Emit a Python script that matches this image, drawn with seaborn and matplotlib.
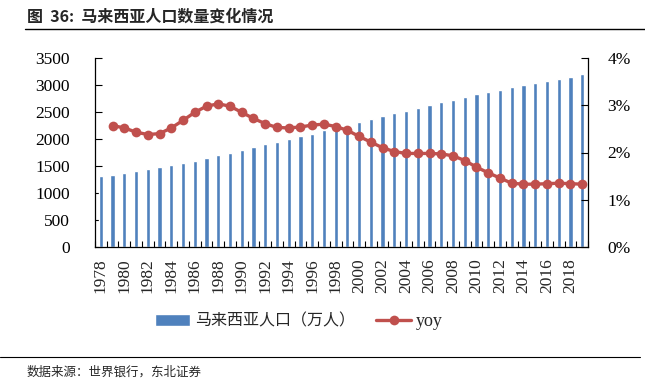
import numpy as np
import pandas as pd
import matplotlib
matplotlib.use("Agg")
import matplotlib.pyplot as plt
import seaborn as sns
from matplotlib.ticker import FixedLocator, FuncFormatter

years = list(range(1978, 2020))
population = [1309, 1340, 1377, 1407, 1444, 1481, 1512, 1555, 1599, 1648,
              1704, 1747, 1802, 1852, 1901, 1951, 2000, 2050, 2099, 2158,
              2210, 2262, 2321, 2371, 2426, 2475, 2525, 2574, 2624, 2679,
              2729, 2778, 2827, 2877, 2914, 2957, 2994, 3037, 3074, 3117,
              3154, 3200]
yoy_years = list(range(1979, 2020))
yoy = [2.57, 2.52, 2.43, 2.38, 2.40, 2.52, 2.68, 2.85, 2.98, 3.03,
       2.98, 2.85, 2.72, 2.61, 2.53, 2.52, 2.54, 2.58, 2.60, 2.55,
       2.47, 2.34, 2.22, 2.10, 2.02, 1.98, 1.98, 1.98, 1.97, 1.93,
       1.83, 1.69, 1.57, 1.46, 1.35, 1.33, 1.33, 1.34, 1.35, 1.34,
       1.33]
left_ticks = [0, 500, 1000, 1500, 2000, 2500, 3000, 3500]
right_ticks = [0, 1, 2, 3, 4]

bar_color = "#4F81BD"
line_color = "#C0504D"
serif = ["Liberation Serif", "Noto Sans CJK SC"]
cjk = ["Noto Sans CJK SC", "Liberation Serif"]

sns.set_style("ticks")
plt.rcParams["font.family"] = serif

fig = plt.figure(figsize=(6.45, 3.84), dpi=100)
ax = fig.add_axes([95/645, 1-247/384, (588-95)/645, (247-58)/384])

df = pd.DataFrame({"year": years, "pop": population})
sns.barplot(data=df, x="year", y="pop", color=bar_color, width=0.36,
            saturation=1, ax=ax, label="马来西亚人口（万人）")
ax.set_xlim(-0.5, len(years) - 0.5)
ax.set_ylim(0, 3500)
ax.set_yticks(left_ticks)
ax.set_yticklabels([str(t) for t in left_ticks], fontsize=12.5)
ax.set_xlabel("")
ax.set_ylabel("")

# x ticks: labels at even years, tick marks between categories
even_idx = [i for i, y in enumerate(years) if y % 2 == 0]
ax.set_xticks(even_idx)
ax.set_xticklabels([str(years[i]) for i in even_idx], rotation=90, fontsize=12.5)
ax.xaxis.set_minor_locator(FixedLocator(np.arange(-0.5, len(years), 1.0)))
ax.tick_params(axis="x", which="major", length=0, pad=8)
ax.tick_params(axis="x", which="minor", direction="in", length=4, width=0.8, color="black")
ax.tick_params(axis="y", direction="in", length=5, width=0.8, pad=18, colors="black")

ax2 = ax.twinx()
dfl = pd.DataFrame({"x": [years.index(y) for y in yoy_years], "yoy": yoy})
sns.lineplot(data=dfl, x="x", y="yoy", color=line_color, marker="o",
             markersize=7, linewidth=2.4, markeredgewidth=0, ax=ax2, label="yoy")
ax2.set_ylim(0, 4)
ax2.set_yticks(right_ticks)
ax2.yaxis.set_major_formatter(FuncFormatter(lambda v, p: f"{int(v)}%"))
ax2.tick_params(axis="y", direction="in", length=5, width=0.8, pad=14, labelsize=12.5, colors="black")
ax2.set_ylabel("")
ax2.set_xlabel("")
ax2.set_xlim(-0.5, len(years) - 0.5)

for a in (ax, ax2):
    a.spines["top"].set_visible(False)
    for s in ("left", "right", "bottom"):
        a.spines[s].set_color("black")
        a.spines[s].set_linewidth(0.9)
ax.spines["right"].set_visible(False)
ax2.spines["left"].set_visible(False)
ax2.spines["bottom"].set_visible(False)

# legend
h1, l1 = ax.get_legend_handles_labels()
h2, l2 = ax2.get_legend_handles_labels()
if ax.get_legend():
    ax.get_legend().remove()
if ax2.get_legend():
    ax2.get_legend().remove()
leg = fig.legend(h1 + h2, l1 + l2, loc="center", bbox_to_anchor=(299/645, 1-321/384),
                 ncol=2, frameon=False, prop={"family": cjk, "size": 11.5},
                 handlelength=2.2, handleheight=0.7, columnspacing=1.3, handletextpad=0.3)
for t in leg.get_texts():
    if t.get_text() == "yoy":
        t.set_fontfamily(serif)
        t.set_fontsize(13)

# title and rules
fig.text(27/645, 1-17/384, "图  36:  马来西亚人口数量变化情况", fontsize=11.5, fontweight="bold",
         family=cjk, va="center", ha="left")
fig.add_artist(plt.Line2D([25/645, 1.0], [1-29/384, 1-29/384], color="black", linewidth=1.0))
fig.add_artist(plt.Line2D([0.0, 640/645], [1-357/384, 1-357/384], color="black", linewidth=0.8))
fig.text(27/645, 1-372/384, "数据来源：世界银行，东北证券", fontsize=9, family=cjk,
         va="center", ha="left")

fig.savefig("out.png", dpi=100)
